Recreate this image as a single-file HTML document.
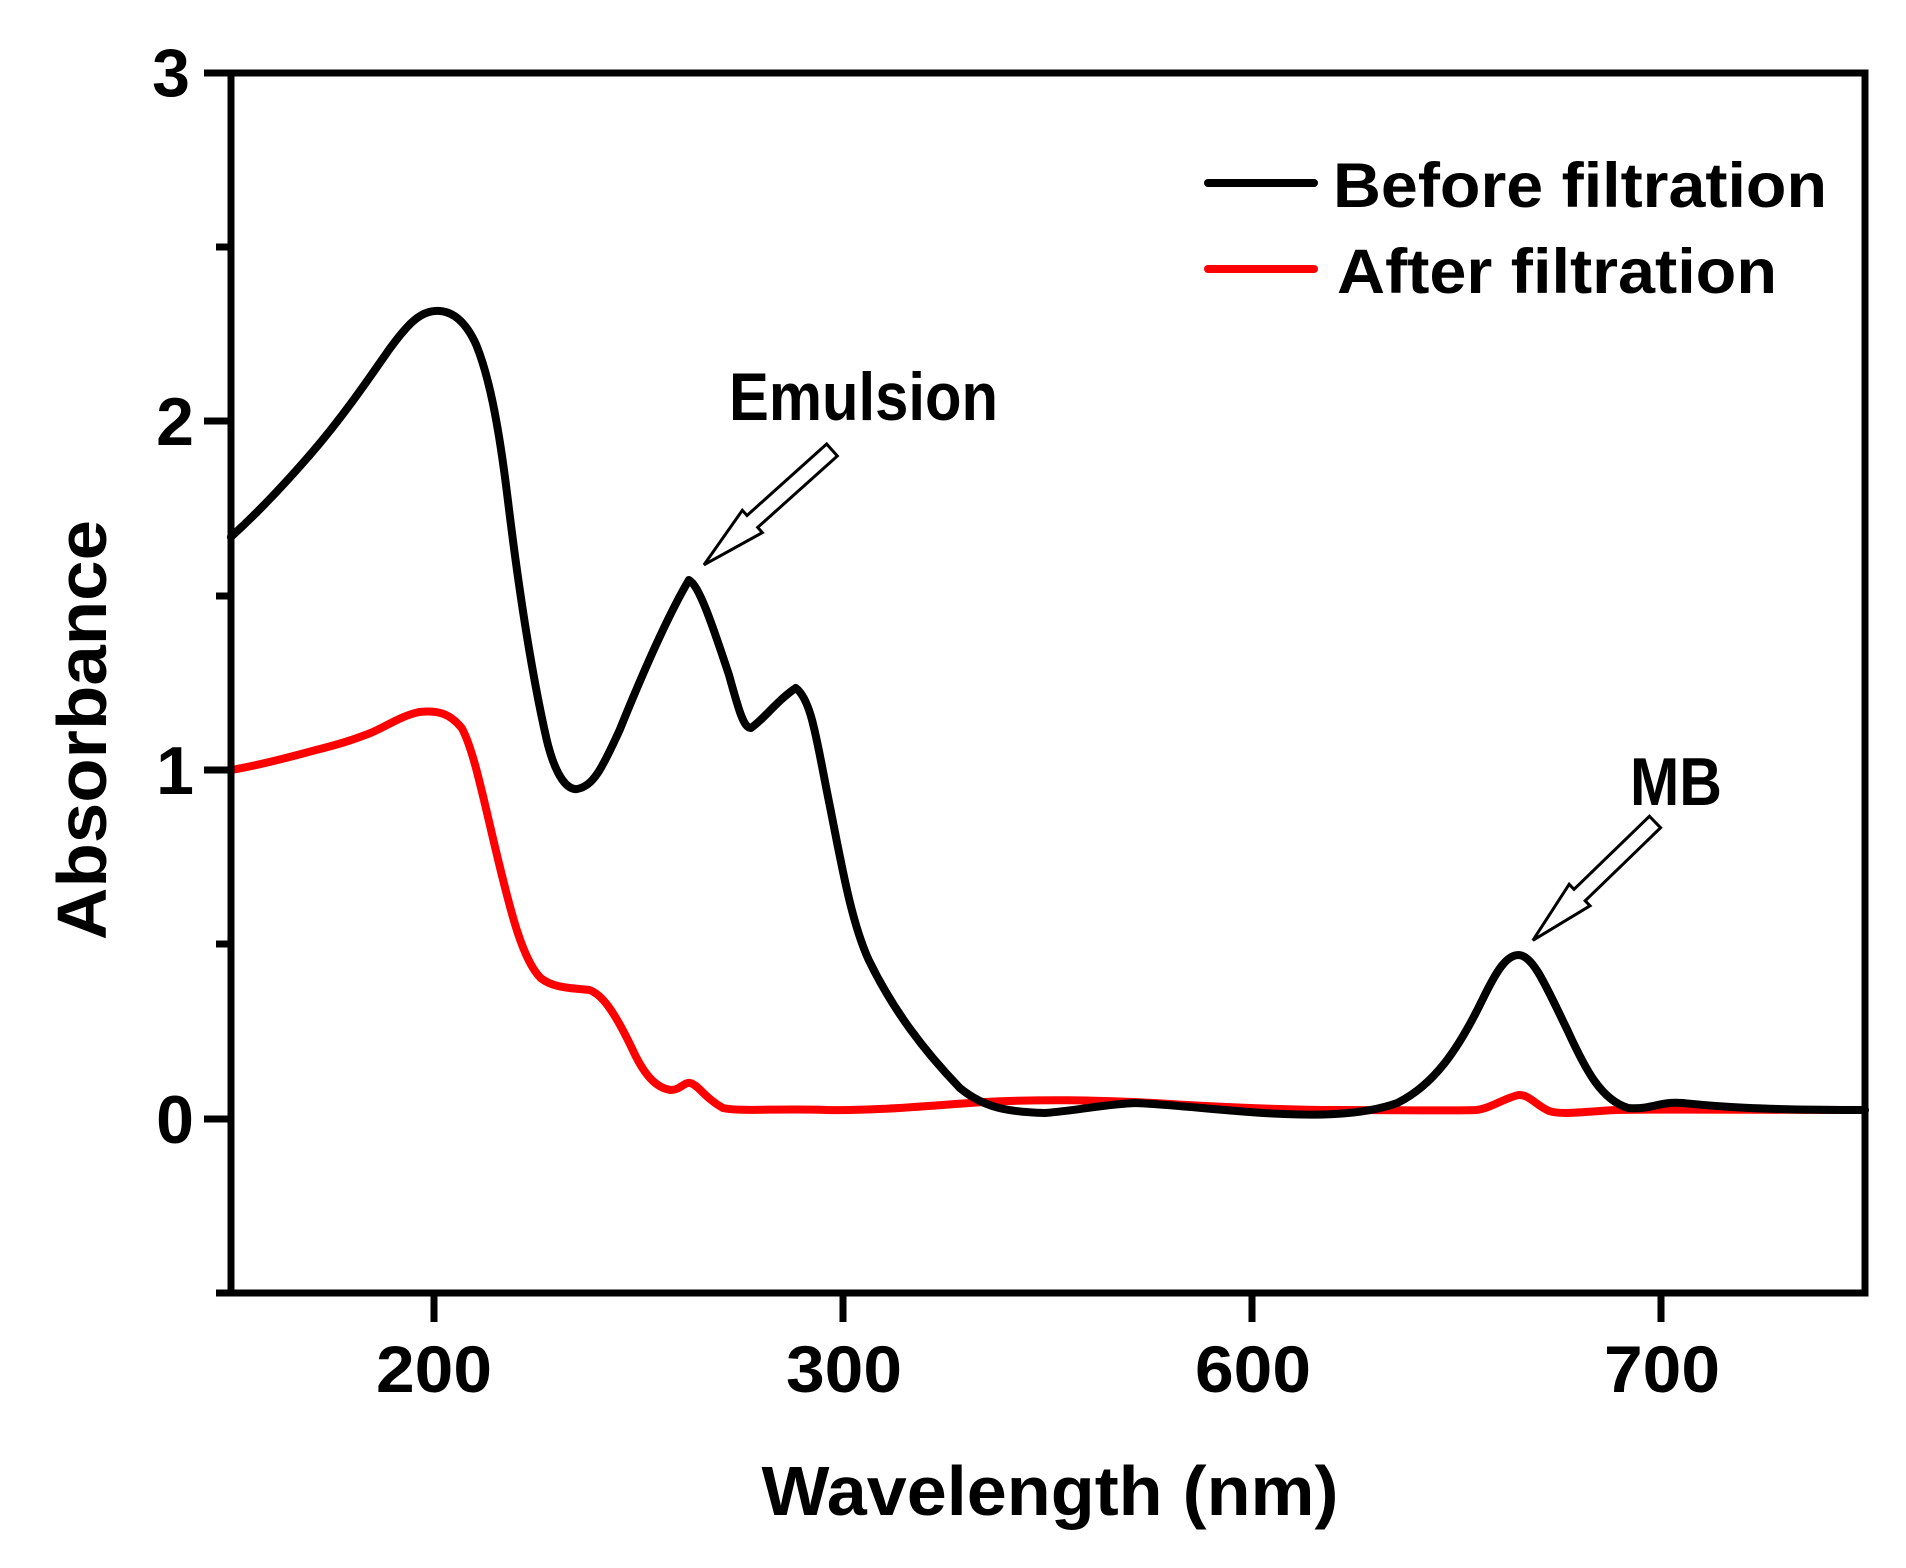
<!DOCTYPE html>
<html><head><meta charset="utf-8"><style>
html,body{margin:0;padding:0;background:#fff;}
svg{display:block;}
text{font-family:"Liberation Sans",Arial,sans-serif;font-weight:bold;fill:#000;}
</style></head><body>
<svg width="1906" height="1568" viewBox="0 0 1906 1568" xmlns="http://www.w3.org/2000/svg">
<rect width="1906" height="1568" fill="#fff"/>
<g transform="scale(1.215,1)" fill="none" stroke-linejoin="round" stroke-linecap="round">
<path vector-effect="non-scaling-stroke" stroke="#ff0000" stroke-width="8" d="M190,770 C210,766 230,760 260,750 C280,744 290,740 305,733 C320,725 330,716 345,712 C360,710 370,713 380,728 C390,750 398,800 410,860 C420,910 430,960 445,978 C455,988 470,988 485,990 C495,994 505,1010 520,1048 C530,1075 540,1088 552,1090 C560,1090 563,1082 568,1083 C575,1085 580,1098 595,1108 C610,1112 640,1108 680,1110 C720,1111 760,1106 810,1102 C860,1099 900,1100 950,1103 C1000,1107 1060,1110 1100,1110 C1150,1110 1200,1111 1215,1110 C1228,1108 1238,1098 1250,1095 C1258,1094 1265,1106 1275,1111 C1285,1115 1300,1112 1330,1110 C1380,1109 1450,1110 1535,1110"/>
<path vector-effect="non-scaling-stroke" stroke="#000" stroke-width="8" d="M190,537 C210,515 230,490 255,455 C280,420 300,385 320,350 C335,325 345,312 358,311 C370,310 382,318 392,345 C402,375 410,420 418,500 C425,570 435,660 450,740 C458,780 468,790 475,789 C488,786 495,770 510,730 C530,670 550,615 567,580 C575,585 585,620 600,675 C608,710 612,728 618,728 C628,720 640,700 655,688 C668,700 672,740 682,800 C692,860 700,920 715,960 C735,1010 760,1050 790,1088 C810,1108 830,1112 860,1113 C890,1110 910,1104 935,1103 C970,1105 1000,1110 1040,1113 C1080,1116 1120,1116 1150,1103 C1180,1085 1200,1050 1220,1000 C1232,970 1240,955 1250,955 C1262,956 1272,985 1290,1030 C1305,1070 1318,1100 1340,1108 C1360,1110 1365,1101 1385,1103 C1410,1106 1440,1110 1535,1110"/>
</g>
<rect x="231" y="73" width="1634" height="1220" fill="none" stroke="#000" stroke-width="7"/>
<g stroke="#000" stroke-width="7">
<line x1="204" y1="73" x2="231" y2="73"/>
<line x1="204" y1="421" x2="231" y2="421"/>
<line x1="204" y1="770" x2="231" y2="770"/>
<line x1="204" y1="1119" x2="231" y2="1119"/>
<line x1="216" y1="247" x2="231" y2="247"/>
<line x1="216" y1="596" x2="231" y2="596"/>
<line x1="216" y1="944" x2="231" y2="944"/>
<line x1="216" y1="1293" x2="231" y2="1293"/>
<line x1="434" y1="1293" x2="434" y2="1322"/>
<line x1="843" y1="1293" x2="843" y2="1322"/>
<line x1="1252" y1="1293" x2="1252" y2="1322"/>
<line x1="1661" y1="1293" x2="1661" y2="1322"/>
</g>
<g font-size="68" text-anchor="end">
<text x="190" y="96">3</text>
<text x="194" y="445">2</text>
<text x="194" y="794">1</text>
<text x="194" y="1143">0</text>
</g>
<g font-size="66" text-anchor="middle">
<text x="434" y="1392" textLength="116" lengthAdjust="spacingAndGlyphs">200</text>
<text x="844" y="1392" textLength="116" lengthAdjust="spacingAndGlyphs">300</text>
<text x="1253" y="1392" textLength="116" lengthAdjust="spacingAndGlyphs">600</text>
<text x="1662" y="1392" textLength="116" lengthAdjust="spacingAndGlyphs">700</text>
</g>
<text x="1050" y="1515" font-size="70" text-anchor="middle" textLength="577" lengthAdjust="spacingAndGlyphs">Wavelength (nm)</text>
<text transform="translate(106,730) rotate(-90)" font-size="70" text-anchor="middle" textLength="420" lengthAdjust="spacingAndGlyphs">Absorbance</text>
<line x1="1208" y1="183" x2="1314" y2="183" stroke="#000" stroke-width="8" stroke-linecap="round"/>
<line x1="1208" y1="269" x2="1314" y2="269" stroke="#ff0000" stroke-width="8" stroke-linecap="round"/>
<text x="1333" y="207" font-size="63" textLength="494" lengthAdjust="spacingAndGlyphs">Before filtration</text>
<text x="1337" y="293" font-size="63" textLength="440" lengthAdjust="spacingAndGlyphs">After filtration</text>
<text x="729" y="420" font-size="68" textLength="269" lengthAdjust="spacingAndGlyphs">Emulsion</text>
<text x="1630" y="805" font-size="68" textLength="92" lengthAdjust="spacingAndGlyphs">MB</text>
<g fill="#fff" stroke="#000" stroke-width="3" stroke-linejoin="miter">
<polygon transform="translate(832,450) rotate(138.1)" points="0,-8 107,-8 107,-15 172,0 107,15 107,8 0,8"/>
<polygon transform="translate(1655,822) rotate(135.9)" points="0,-8 105,-8 105,-15 170,0 105,15 105,8 0,8"/>
</g>
</svg>
</body></html>
